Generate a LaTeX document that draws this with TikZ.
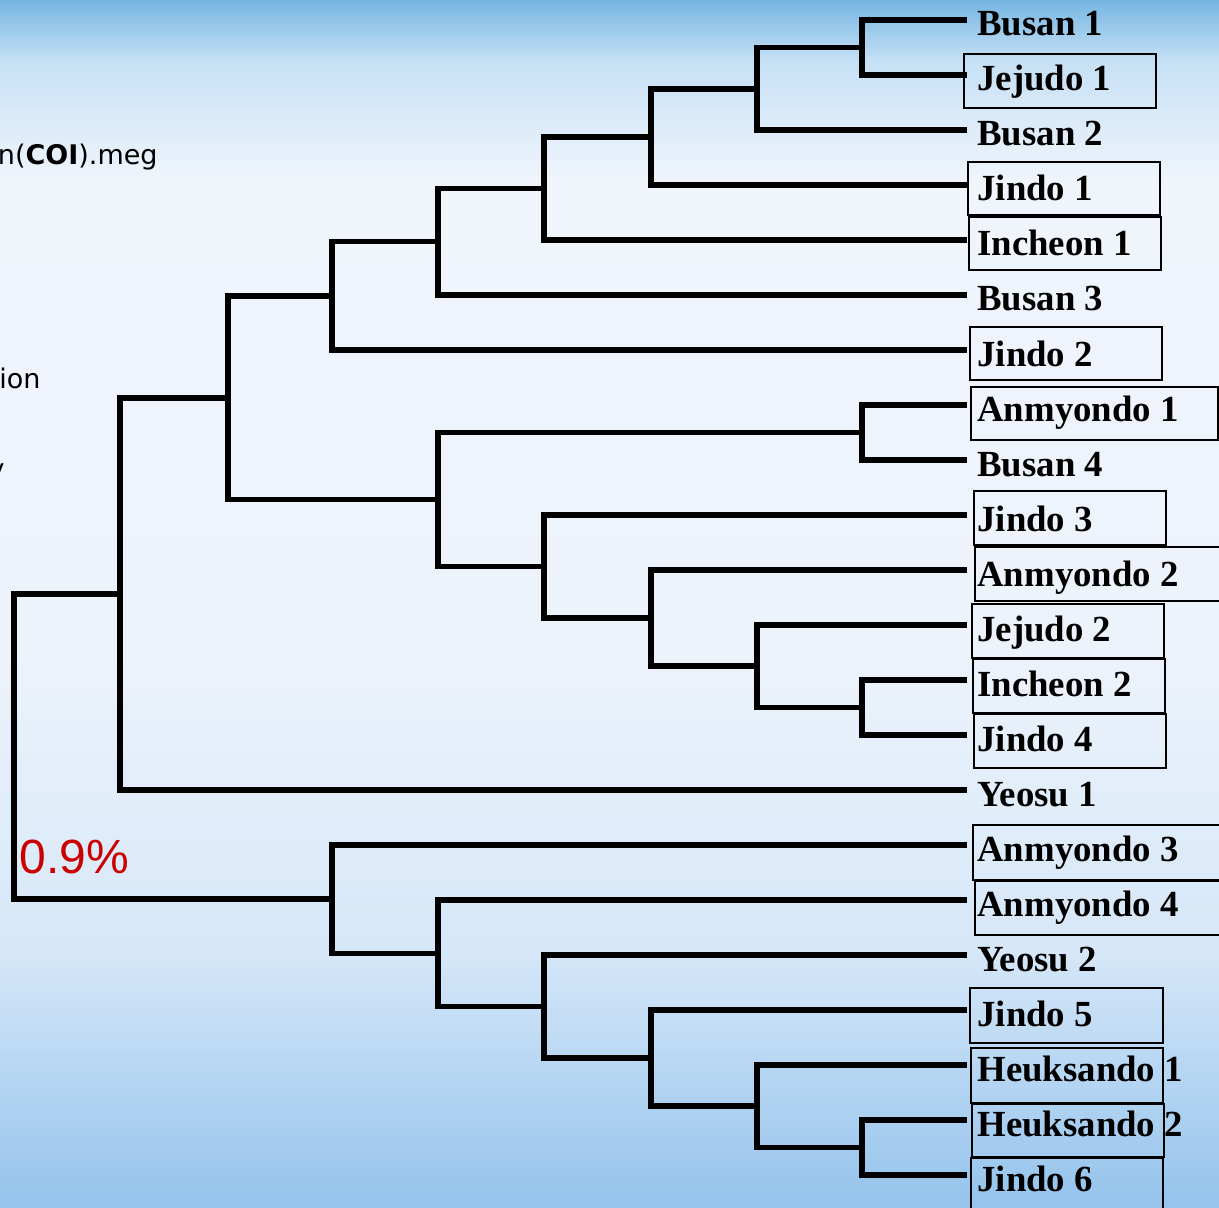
\documentclass[tikz,border=0pt]{standalone}
\usepackage{fontspec}
\setmainfont{Liberation Serif}
\newfontfamily\lsans{Liberation Sans}
\newfontfamily\dsans{DejaVu Sans}
\definecolor{bgA}{RGB}{118,182,226}
\definecolor{bgB}{RGB}{198,224,245}
\definecolor{bgC}{RGB}{240,245,252}
\definecolor{bgD}{RGB}{237,243,251}
\definecolor{bgE}{RGB}{214,231,248}
\definecolor{bgF}{RGB}{148,195,236}
\definecolor{pctred}{RGB}{204,0,0}
\begin{document}
\begin{tikzpicture}[x=0.5pt,y=-0.5pt,
  tree/.style={line width=2.8pt, line join=miter},
  boxframe/.style={draw=black, line width=1pt},
  lab/.style={anchor=base west, inner sep=0pt, font=\bfseries\fontsize{18.4}{20}\selectfont},
  side/.style={anchor=base east, inner sep=0pt, font=\dsans\fontsize{13.5}{15}\selectfont}]
\useasboundingbox (0,0) rectangle (1219,1208);
\clip (0,0) rectangle (1219,1208);
% background
\fill[top color=bgA, bottom color=bgB] (0,0) rectangle (1219,61);
\fill[top color=bgB, bottom color=bgC] (0,60) rectangle (1219,181);
\fill[top color=bgC, bottom color=bgD] (0,180) rectangle (1219,651);
\fill[top color=bgD, bottom color=bgE] (0,650) rectangle (1219,951);
\fill[top color=bgE, bottom color=bgF] (0,950) rectangle (1219,1208);
% side texts
\node[side] (t1) at (158,165) {n(\textbf{COI}).meg};
\node[side] (t2) at (41,388) {ion};
\node[side] (t3) at (5,478) {y};
\node[anchor=base west, inner sep=0pt, text=pctred, font=\lsans\fontsize{24}{27}\selectfont] (pct) at (19,873) {0.9\%};
% leaves
\foreach \n/\t [count=\i from 0] in {b1/Busan 1, je1/Jejudo 1, b2/Busan 2, ji1/Jindo 1, in1/Incheon 1, b3/Busan 3, ji2/Jindo 2, an1/Anmyondo 1, b4/Busan 4, ji3/Jindo 3, an2/Anmyondo 2, je2/Jejudo 2, in2/Incheon 2, ji4/Jindo 4, ye1/Yeosu 1, an3/Anmyondo 3, an4/Anmyondo 4, ye2/Yeosu 2, ji5/Jindo 5, he1/Heuksando 1, he2/Heuksando 2, ji6/Jindo 6} {
  \coordinate (\n) at (967,{20+55*\i});
  \node[lab] (\n t) at (977,{36+55*\i}) {\t};
}
% boxes
\draw[boxframe] (964,54) rectangle (1156,108);
\draw[boxframe] (968,162) rectangle (1160,215);
\draw[boxframe] (969,217) rectangle (1161,270);
\draw[boxframe] (970,327) rectangle (1162,380);
\draw[boxframe] (971,387) rectangle (1218,440);
\draw[boxframe] (974,491) rectangle (1166,545);
\draw[boxframe] (975,547) rectangle (1224,601);
\draw[boxframe] (972,604) rectangle (1164,658);
\draw[boxframe] (973,659) rectangle (1165,713);
\draw[boxframe] (974,714) rectangle (1166,768);
\draw[boxframe] (973,825) rectangle (1224,880);
\draw[boxframe] (975,881) rectangle (1224,935);
\draw[boxframe] (970,988) rectangle (1163,1043);
\draw[boxframe] (971,1048) rectangle (1163,1103);
\draw[boxframe] (972,1104) rectangle (1164,1157);
\draw[boxframe] (971,1158) rectangle (1163,1215);
% internal nodes
\coordinate (A) at (862,47.5);
\coordinate (B) at (757,88.75);
\coordinate (C) at (651,136.9);
\coordinate (D) at (544,188.4);
\coordinate (E) at (438,241.7);
\coordinate (F) at (332,295.9);
\coordinate (G) at (862,432.5);
\coordinate (H) at (862,707.5);
\coordinate (I) at (757,666.25);
\coordinate (J) at (651,618.1);
\coordinate (K) at (544,566.6);
\coordinate (L) at (438,499.5);
\coordinate (M) at (228,397.7);
\coordinate (N) at (120,593.9);
\coordinate (O) at (862,1147.5);
\coordinate (P) at (757,1106.25);
\coordinate (Q) at (651,1058.1);
\coordinate (R) at (544,1006.6);
\coordinate (S) at (438,953.3);
\coordinate (T) at (332,899.2);
\coordinate (root) at (14,746.5);
% edges
\draw[tree] (A) |- (b1); \draw[tree] (A) |- (je1);
\draw[tree] (B) |- (A);  \draw[tree] (B) |- (b2);
\draw[tree] (C) |- (B);  \draw[tree] (C) |- (ji1);
\draw[tree] (D) |- (C);  \draw[tree] (D) |- (in1);
\draw[tree] (E) |- (D);  \draw[tree] (E) |- (b3);
\draw[tree] (F) |- (E);  \draw[tree] (F) |- (ji2);
\draw[tree] (G) |- (an1); \draw[tree] (G) |- (b4);
\draw[tree] (H) |- (in2); \draw[tree] (H) |- (ji4);
\draw[tree] (I) |- (je2); \draw[tree] (I) |- (H);
\draw[tree] (J) |- (an2); \draw[tree] (J) |- (I);
\draw[tree] (K) |- (ji3); \draw[tree] (K) |- (J);
\draw[tree] (L) |- (G);  \draw[tree] (L) |- (K);
\draw[tree] (M) |- (F);  \draw[tree] (M) |- (L);
\draw[tree] (N) |- (M);  \draw[tree] (N) |- (ye1);
\draw[tree] (O) |- (he2); \draw[tree] (O) |- (ji6);
\draw[tree] (P) |- (he1); \draw[tree] (P) |- (O);
\draw[tree] (Q) |- (ji5); \draw[tree] (Q) |- (P);
\draw[tree] (R) |- (ye2); \draw[tree] (R) |- (Q);
\draw[tree] (S) |- (an4); \draw[tree] (S) |- (R);
\draw[tree] (T) |- (an3); \draw[tree] (T) |- (S);
\draw[tree] (root) |- (N); \draw[tree] (root) |- (T);
\end{tikzpicture}
\end{document}
